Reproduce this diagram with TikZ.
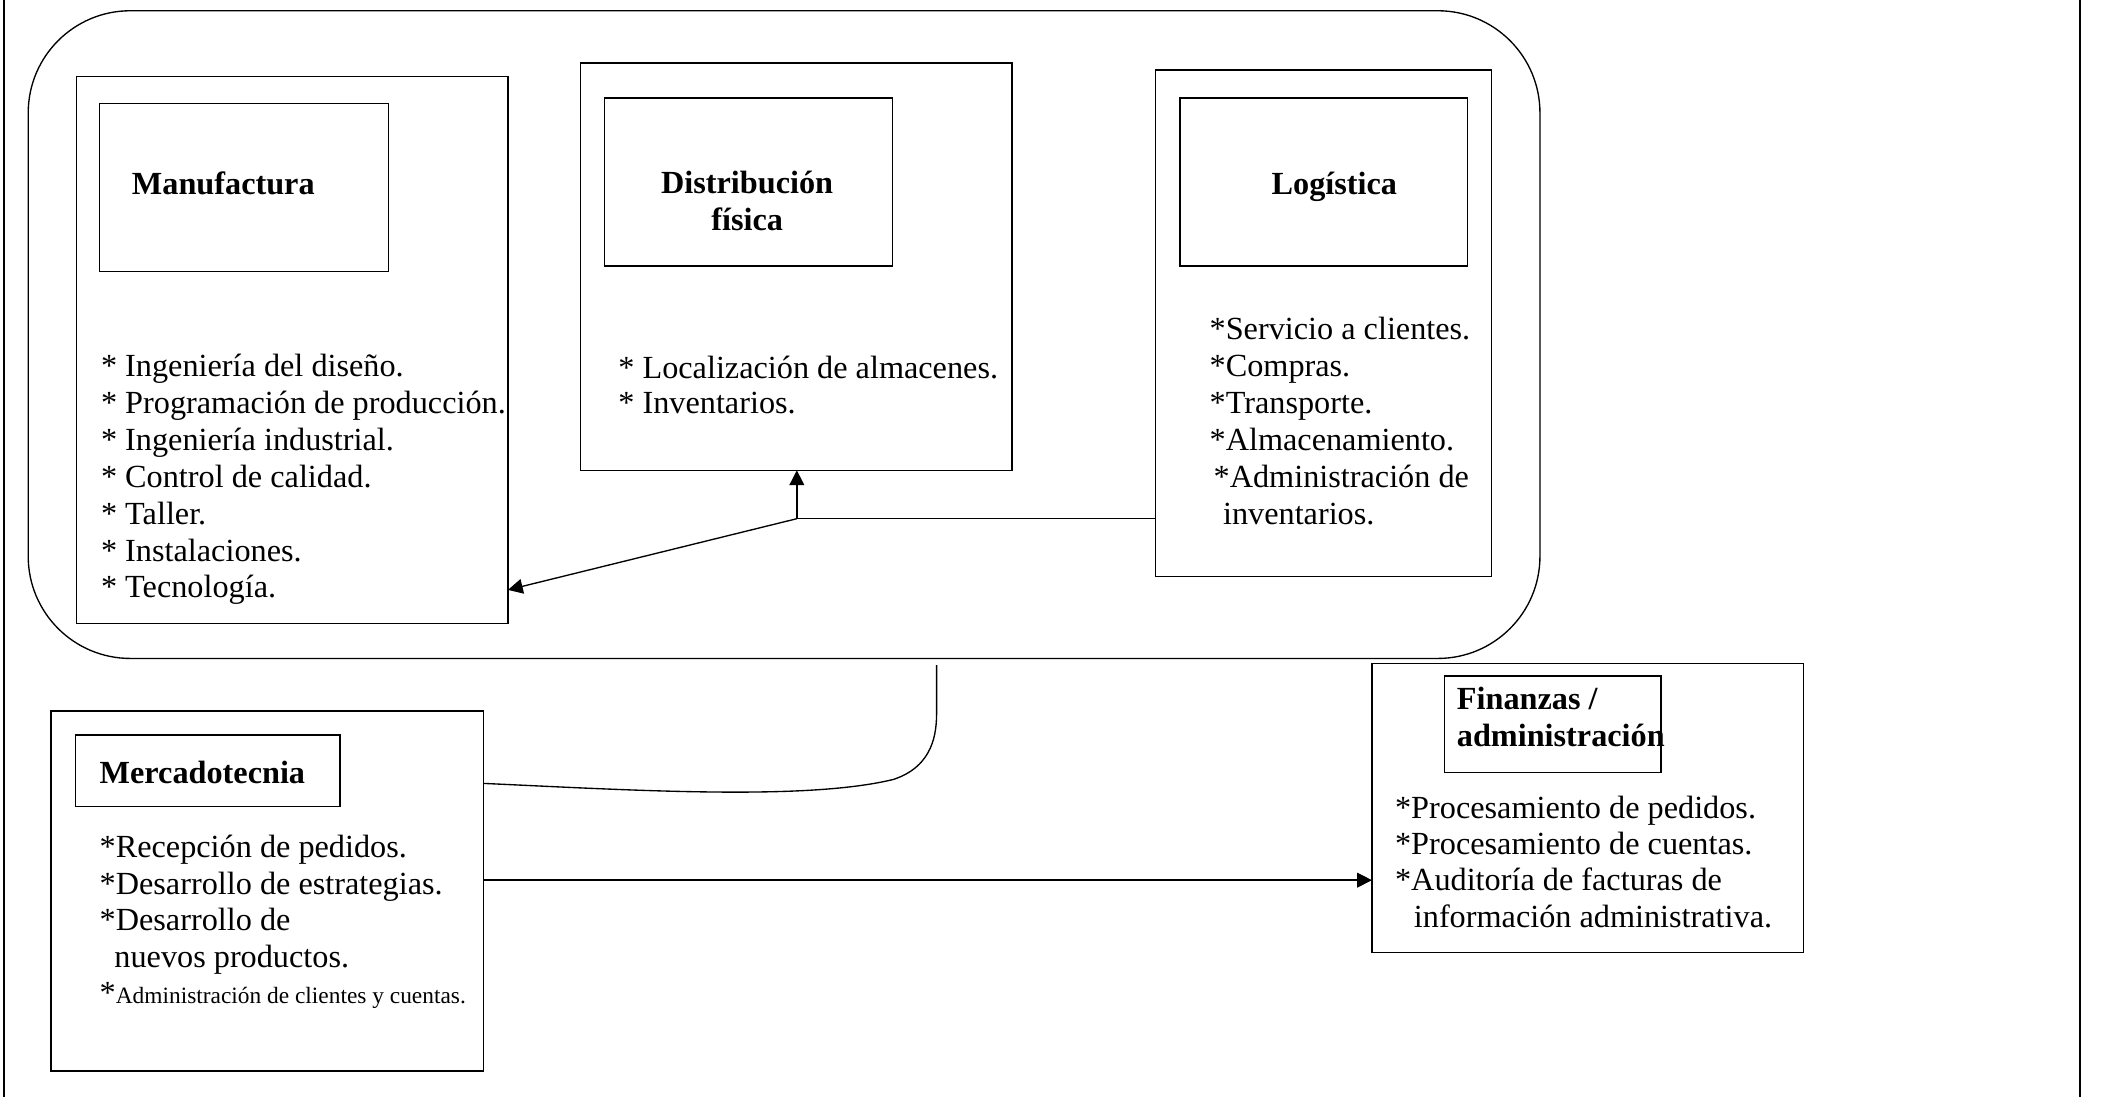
\documentclass[tikz,border=0pt]{standalone}
\usepackage{fontspec}
\setmainfont{Liberation Serif}
\usetikzlibrary{arrows.meta}
\tikzset{
  box/.style={draw, line width=1pt, anchor=north west, inner sep=0pt, outer sep=0pt},
  lst/.style={anchor=base west, inner sep=0pt, align=left, font=\fontsize{24}{27.5}\selectfont},
  ttl/.style={inner sep=0pt, font=\fontsize{24}{27.5}\selectfont\bfseries},
  arr/.style={line width=1pt, -{Triangle[length=11pt,width=11pt]}},
  conn/.style={line width=1pt},
  frame/.style={line width=1pt},
}
\begin{document}
\begin{tikzpicture}[x=1pt,y=-1pt]
\useasboundingbox (0,0) rectangle (1568,816);
\draw[frame] (3,0) -- (3,816);
\draw[frame] (1548,0) -- (1548,816);
% boxes
\node[box, rounded corners=76pt, minimum width=1125pt, minimum height=482pt] (outer) at (21,8) {};
\node[box, minimum width=321pt, minimum height=407pt] (man) at (57,57) {};
\node[box, minimum width=215pt, minimum height=125pt] (mant) at (74,77) {};
\node[box, minimum width=321pt, minimum height=303pt] (dist) at (432,47) {};
\node[box, minimum width=214pt, minimum height=125pt] (distt) at (450,73) {};
\node[box, minimum width=250pt, minimum height=377pt] (log) at (860,52) {};
\node[box, minimum width=214pt, minimum height=125pt] (logt) at (878,73) {};
\node[box, minimum width=322pt, minimum height=268pt] (merc) at (38,529) {};
\node[box, minimum width=197pt, minimum height=53pt] (merct) at (56,547) {};
\node[box, minimum width=321pt, minimum height=215pt] (fin) at (1021,494) {};
\node[box, minimum width=161pt, minimum height=72pt] (fint) at (1075,503) {};
% titles (base anchor = baseline of the last line)
\node[ttl, anchor=base west] (mantl) at (98,145) {Manufactura};
\node[ttl, anchor=base, align=center] (disttl) at (556,171.5) {Distribución\\física};
\node[ttl, anchor=base] (logtl) at (993,145) {Logística};
\node[ttl, anchor=base west] (merctl) at (74,583) {Mercadotecnia};
\node[ttl, anchor=base west, align=left] (fintl) at (1084,555.5) {Finanzas /\\administración};
% lists
\node[lst] (manl) at (75,445) {* Ingeniería del diseño.\\* Programación de producción.\\* Ingeniería industrial.\\* Control de calidad.\\* Taller.\\* Instalaciones.\\* Tecnología.};
\node[lst, font=\fontsize{24}{25.5}\selectfont] (distl) at (460,307.5) {* Localización de almacenes.\\* Inventarios.};
\node[lst] (logl) at (900,390.5) {*Servicio a clientes.\\*Compras.\\*Transporte.\\*Almacenamiento.\\\hspace{3pt}*Administración de\\\hspace{10pt}inventarios.};
\node[lst, font=\fontsize{24}{27.2}\selectfont] (mercl) at (74,747) {*Recepción de pedidos.\\*Desarrollo de estrategias.\\*Desarrollo de\\\hspace{11pt}nuevos productos.\\*{\fontsize{17.4}{20}\selectfont Administración de clientes y cuentas.}};
\node[lst, font=\fontsize{24}{27}\selectfont] (finl) at (1038,690) {*Procesamiento de pedidos.\\*Procesamiento de cuentas.\\*Auditoría de facturas de\\\hspace{14pt}información administrativa.};
% connectors
\coordinate (j) at (593,386);
\coordinate (tm) at (0,439);
\coordinate (mc) at (0,583);
\coordinate (ma) at (0,655);
\coordinate (ctop) at (697,495);
\draw[conn] (log.west |- j) -- (j);
\draw[arr] (j) -- (dist.south -| j);
\draw[arr] (j) -- (man.east |- tm);
\draw[arr] (merc.east |- ma) -- (fin.west |- ma);
\draw[conn] (merc.east |- mc) .. controls (470,588) and (600,596) .. (665,580) .. controls (695,570) and (697,545) .. (697,530) -- (ctop);
\end{tikzpicture}
\end{document}
